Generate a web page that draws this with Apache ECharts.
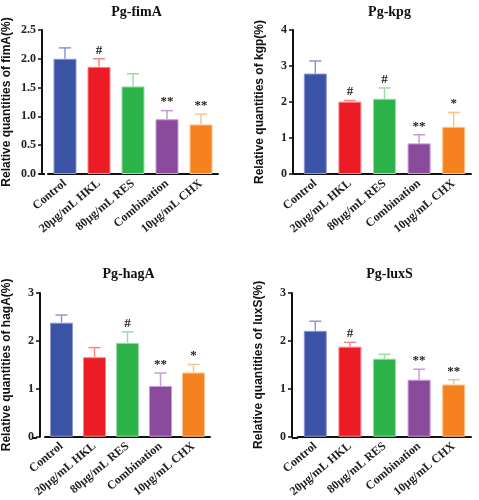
<!DOCTYPE html>
<html><head><meta charset="utf-8">
<script src="https://cdn.jsdelivr.net/npm/echarts@6/dist/echarts.min.js"></script>
<style>html,body{margin:0;padding:0;background:#fff}#c{width:479px;height:500px}</style>
</head><body><div id="c"></div>
<script>
const categories = ['Control', '20μg/mL HKL', '80μg/mL RES', 'Combination', '10μg/mL CHX'];

const fimA = [2.00, 1.86, 1.52, 0.95, 0.86];
const fimAErr = [0.19, 0.14, 0.22, 0.15, 0.18];
const fimASig = ['', '#', '', '**', '**'];

const kpg = [2.79, 2.01, 2.09, 0.85, 1.31];
const kpgErr = [0.35, 0.03, 0.30, 0.24, 0.40];
const kpgSig = ['', '#', '#', '**', '*'];

const hagA = [2.38, 1.66, 1.96, 1.06, 1.34];
const hagAErr = [0.16, 0.20, 0.23, 0.27, 0.17];
const hagASig = ['', '', '#', '**', '*'];

const luxS = [2.21, 1.88, 1.63, 1.19, 1.09];
const luxSErr = [0.20, 0.09, 0.09, 0.22, 0.10];
const luxSSig = ['', '#', '', '**', '**'];

const titles = ['Pg-fimA', 'Pg-kpg', 'Pg-hagA', 'Pg-luxS'];
const yNames = ['Relative quantities of fimA(%)', 'Relative quantities of kgp(%)', 'Relative quantities of hagA(%)', 'Relative quantities of luxS(%)'];
const yMax = [2.5, 4, 3, 3];
const yInterval = [0.5, 1, 1, 1];

const barColors = ['#3A53A4', '#EC1C24', '#2CB34A', '#8B4B9D', '#F6821F'];
const lightColors = ['#8E96D4', '#F4878C', '#9CDCA4', '#C99BD6', '#FBC38B'];

const panels = [
  {vals: fimA, err: fimAErr, sig: fimASig, grid: {left: 45, top: 30, width: 173, height: 144}, off: 6, gap: 29, dec: 1, titleTop: 0},
  {vals: kpg, err: kpgErr, sig: kpgSig, grid: {left: 298, top: 30, width: 173, height: 144}, off: 5, gap: 27, dec: 0, titleTop: 0},
  {vals: hagA, err: hagAErr, sig: hagASig, grid: {left: 37, top: 293, width: 173, height: 145}, off: 5, gap: 27, dec: 0, titleTop: 262},
  {vals: luxS, err: luxSErr, sig: luxSSig, grid: {left: 298, top: 293, width: 173, height: 145}, off: 6, gap: 27, dec: 0, titleTop: 262}
];

const serif = 'Liberation Serif';
const sans = 'Liberation Sans';

const option = {grid: [], xAxis: [], yAxis: [], series: [], title: [], graphic: [], animation: false};

panels.forEach((p, k) => {
  option.grid.push(Object.assign({containLabel: false}, p.grid));
  option.title.push({
    text: titles[k], left: p.grid.left + p.grid.width / 2, top: p.titleTop, textAlign: 'center',
    textStyle: {fontFamily: serif, fontWeight: 'bold', fontSize: 14, color: '#111'}
  });
  option.xAxis.push({
    type: 'category', gridIndex: k, data: categories,
    axisLine: {lineStyle: {color: '#111', width: 2}},
    axisTick: {alignWithLabel: true, length: 4, lineStyle: {color: '#111', width: 1.5}},
    axisLabel: {rotate: 40, margin: 8, fontFamily: serif, fontWeight: 'bold', fontSize: 12, color: '#222', interval: 0}
  });
  option.yAxis.push({
    type: 'value', gridIndex: k, min: 0, max: yMax[k], interval: yInterval[k], offset: p.off,
    name: yNames[k], nameLocation: 'middle', nameGap: p.gap,
    nameTextStyle: {fontFamily: sans, fontWeight: 'bold', fontSize: 12, color: '#111'},
    splitLine: {show: false},
    axisLine: {show: true, lineStyle: {color: '#111', width: 2}},
    axisTick: {show: true, length: 4, lineStyle: {color: '#111', width: 1.5}},
    axisLabel: {margin: 6, fontFamily: serif, fontWeight: 'bold', fontSize: 12, color: '#222',
      formatter: v => v.toFixed(p.dec)}
  });
  option.series.push({
    type: 'bar', xAxisIndex: k, yAxisIndex: k, barWidth: 23,
    data: p.vals.map((v, i) => ({value: v, itemStyle: {color: barColors[i], borderColor: lightColors[i], borderWidth: 1}}))
  });
  const sig = p.sig;
  option.series.push({
    type: 'custom', xAxisIndex: k, yAxisIndex: k, z: 5,
    data: p.vals.map((v, i) => [i, v, v + p.err[i]]),
    renderItem: (params, api) => {
      const i = api.value(0);
      const p0 = api.coord([i, api.value(1)]);
      const p1 = api.coord([i, api.value(2)]);
      const c = lightColors[i];
      const hw = 6;
      const children = [
        {type: 'line', shape: {x1: p0[0], y1: p0[1], x2: p1[0], y2: p1[1]}, style: {stroke: c, lineWidth: 1.5}},
        {type: 'line', shape: {x1: p1[0] - hw, y1: p1[1], x2: p1[0] + hw, y2: p1[1]}, style: {stroke: c, lineWidth: 1.5}}
      ];
      if (sig[i]) {
        children.push({type: 'text', x: p1[0], y: p1[1] - 2,
          style: {text: sig[i], align: 'center', verticalAlign: 'bottom', fill: '#222',
            font: 'bold 13px "Liberation Serif"'}});
      }
      return {type: 'group', children};
    }
  });
  option.graphic.push({type: 'line', z: 10,
    shape: {x1: p.grid.left - p.off, y1: p.grid.top + p.grid.height, x2: p.grid.left, y2: p.grid.top + p.grid.height},
    style: {stroke: '#111', lineWidth: 2}});
});

const chart = echarts.init(document.getElementById('c'), null, {renderer: 'canvas'});
chart.setOption(option);
</script></body></html>
